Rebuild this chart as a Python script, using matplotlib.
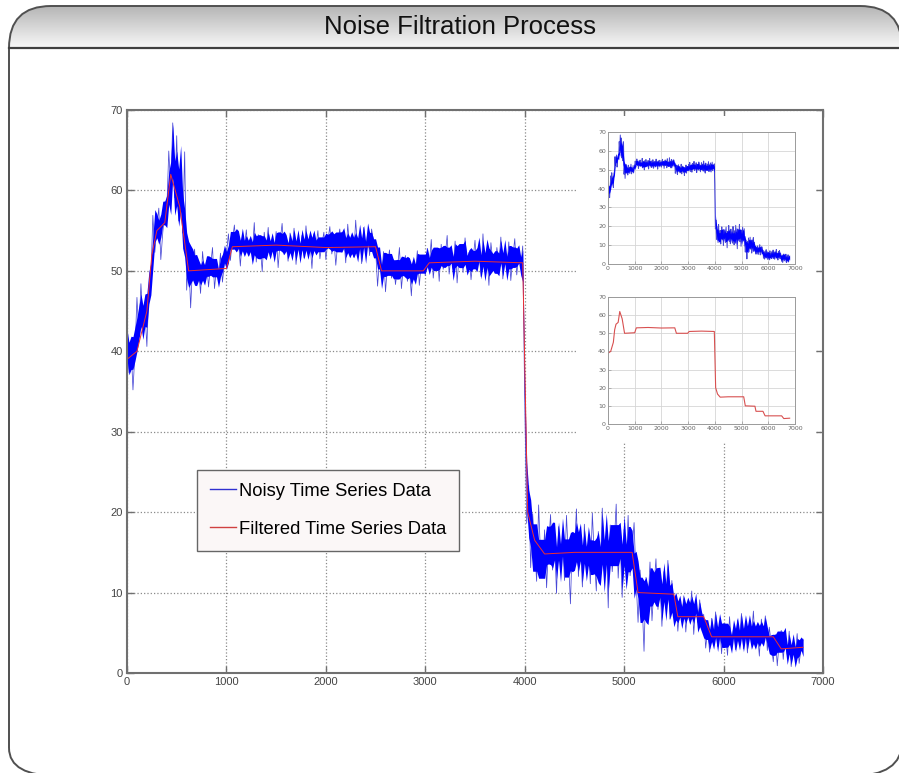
import numpy as np
import pandas as pd
import matplotlib
matplotlib.use("Agg")
import matplotlib.pyplot as plt
from matplotlib.path import Path
from matplotlib.patches import PathPatch, Rectangle
from matplotlib.lines import Line2D
from matplotlib.transforms import Affine2D

# === 1. Data ===
title = "Noise Filtration Process"
legend_labels = ["Noisy Time Series Data", "Filtered Time Series Data"]

# noisy samples, one value every 20 time steps (0 .. 6800)
noisy_step = 20
noisy_values = [
    42.1, 37.3, 40.9, 35.2, 39.8, 46.7, 42.1, 48.4, 43.6, 45.1,   # 0
    40.6, 47.9, 49.0, 56.9, 52.3, 55.6, 57.8, 51.4, 54.8, 57.2,   # 200
    57.4, 64.9, 60.3, 68.4, 59.1, 66.8, 56.2, 61.5, 54.7, 64.8,   # 400
    47.6, 51.9, 45.4, 50.8, 52.7, 48.3, 50.1, 47.2, 52.4, 49.5,   # 600
    51.3, 48.0, 50.6, 52.9, 47.8, 50.4, 49.1, 52.2, 48.6, 51.0,   # 800
    52.1, 54.6, 51.3, 53.8, 55.7, 52.4, 53.9, 50.6, 54.2, 52.8,   # 1000
    55.1, 51.9, 53.4, 52.2, 56.0, 51.1, 54.5, 53.0, 49.9, 54.8,   # 1200
    52.6, 55.4, 51.8, 53.6, 52.3, 54.9, 50.4, 53.7, 55.9, 52.0,   # 1400
    53.5, 51.2, 54.7, 52.5, 55.3, 50.8, 53.9, 52.2, 54.4, 51.6,   # 1600
    55.6, 52.7, 53.8, 50.3, 54.6, 52.9, 55.0, 51.5, 53.3, 54.8,   # 1800
    51.4, 53.7, 55.5, 52.1, 54.0, 50.7, 53.6, 55.2, 52.4, 54.1,   # 2000
    51.0, 55.8, 52.9, 53.5, 51.7, 56.3, 52.6, 54.3, 50.9, 55.4,   # 2200
    52.3, 54.6, 51.9, 55.2, 53.6, 52.8, 48.1, 51.6, 49.3, 52.4,   # 2400
    47.4, 50.8, 52.6, 49.1, 51.4, 48.3, 50.2, 52.9, 47.8, 50.6,   # 2600
    51.9, 48.7, 50.4, 46.9, 51.2, 49.6, 52.5, 48.2, 50.9, 51.7,   # 2800
    49.4, 52.8, 50.6, 53.9, 49.1, 51.5, 52.4, 48.7, 53.3, 50.2,   # 3000
    51.8, 54.4, 49.6, 52.1, 50.3, 53.7, 48.5, 51.9, 52.6, 49.8,   # 3200
    54.1, 50.7, 52.3, 48.9, 51.4, 53.8, 50.1, 52.7, 49.3, 54.6,   # 3400
    50.5, 52.2, 48.2, 53.5, 51.1, 49.7, 52.9, 50.8, 54.2, 49.0,   # 3600
    52.4, 50.3, 53.6, 48.8, 51.7, 54.0, 49.5, 52.1, 50.6, 53.1,   # 3800
    34.0, 18.6, 23.3, 13.1, 19.8, 15.6, 11.4, 20.9, 14.2, 12.3,   # 4000
    17.8, 10.6, 15.9, 19.7, 12.8, 16.4, 9.9, 18.2, 13.7, 16.9,    # 4200
    11.5, 19.6, 14.3, 8.6, 17.2, 15.1, 20.4, 12.0, 16.3, 10.7,    # 4400
    18.5, 13.6, 15.8, 11.1, 19.9, 14.4, 10.2, 17.6, 12.9, 20.5,   # 4600
    13.3, 16.7, 8.1, 18.4, 12.6, 15.9, 21.0, 11.8, 16.5, 9.4,     # 4800
    17.9, 13.2, 19.6, 12.1, 15.4, 18.7, 11.6, 6.3, 12.8, 9.1,     # 5000
    2.7, 11.9, 8.4, 13.8, 6.5, 10.7, 14.2, 7.9, 11.3, 5.8,        # 5200
    12.6, 8.8, 14.0, 6.7, 11.5, 7.6, 9.4, 5.2, 8.3, 6.9,          # 5400
    9.6, 5.1, 8.2, 7.4, 10.2, 4.8, 8.7, 6.3, 9.1, 5.6,            # 5600
    7.3, 3.1, 5.4, 2.6, 6.8, 4.2, 7.6, 3.3, 5.9, 2.4,             # 5800
    6.1, 4.7, 2.2, 7.0, 3.6, 5.5, 2.9, 6.6, 4.1, 7.4,             # 6000
    3.0, 5.8, 2.5, 6.3, 4.4, 7.7, 3.2, 5.1, 2.1, 6.7,             # 6200
    4.6, 7.1, 2.8, 5.7, 3.5, 1.4, 4.8, 0.9, 3.9, 5.3,             # 6400
    1.7, 4.4, 2.3, 5.2, 0.8, 3.6, 2.0, 4.9, 1.2, 3.1,             # 6600
    4.2,                                                          # 6800
]
noisy_time = np.arange(len(noisy_values)) * noisy_step

# filtered (smoothed) curve
filtered_time = [0, 100, 200, 250, 300, 380, 440, 530, 620, 1000, 1060,
                 1500, 2000, 2500, 2560, 2980, 3040, 3500, 3980, 4030,
                 4100, 4200, 4500, 5080, 5140, 5500, 5540, 5800, 5880,
                 6500, 6580, 6800]
filtered_values = [39.0, 40.0, 45.0, 52.0, 55.0, 56.0, 62.0, 58.0, 50.0,
                   50.3, 53.0, 53.2, 52.9, 53.0, 50.0, 50.0, 51.0, 51.2,
                   51.0, 20.0, 16.5, 14.8, 15.0, 15.0, 10.0, 9.8, 7.0,
                   7.0, 4.5, 4.5, 3.0, 3.2]

x_ticks = [0, 1000, 2000, 3000, 4000, 5000, 6000, 7000]
y_ticks = [0, 10, 20, 30, 40, 50, 60, 70]

# dense core of the noisy band (from the samples above)
s = pd.Series(noisy_values)
center = s.rolling(5, center=True, min_periods=1).median()
spread = (s.rolling(2, min_periods=1).max() - s.rolling(2, min_periods=1).min())
spread = spread.rolling(7, center=True, min_periods=1).median()
core_lo = center - 0.44 * spread
core_hi = center + 0.44 * spread

# === 2. Figure and slide frame (drawn in pixels, y from the top) ===
W, H = 899, 773
fig = plt.figure(figsize=(W / 100, H / 100), dpi=100, facecolor="white")
font = ["Liberation Sans", "DejaVu Sans"]
px = Affine2D().scale(1, -1).translate(0, H)   # pixel coords -> display
C3 = Path.CURVE3


def frame_piece(points, codes):
    fig.add_artist(PathPatch(Path(points, codes), transform=px, facecolor="none",
                             edgecolor="#505050", lw=1.4))


# title band gradient as thin horizontal strips
band = Path(
    [(9, 48), (9, 6), (51, 6), (860, 6), (902, 6), (902, 48), (9, 48)],
    [Path.MOVETO, C3, C3, Path.LINETO, C3, C3, Path.CLOSEPOLY],
)
band_clip = PathPatch(band, transform=px, facecolor="none", edgecolor="none")
fig.add_artist(band_clip)
for i in range(42):
    shade = 0.71 + 0.26 * i / 41
    strip = Rectangle((0, 6 + i), W, 1.05, transform=px,
                      facecolor=(shade, shade, shade), edgecolor="none")
    strip.set_clip_path(band_clip)
    fig.add_artist(strip)

# left edge and the two upper corners
frame_piece([(9, 748), (9, 48), (9, 6), (51, 6), (860, 6), (902, 6), (902, 48)],
            [Path.MOVETO, Path.LINETO, C3, C3, Path.LINETO, C3, C3])
# lower corners
frame_piece([(9, 748), (9, 776), (59, 776)], [Path.MOVETO, C3, C3])
frame_piece([(902, 742), (902, 776), (852, 776)], [Path.MOVETO, C3, C3])
fig.add_artist(Line2D([9, W], [48, 48], transform=px, color="#404040", lw=1.6))
fig.text(460 / W, 1 - 27 / H, title, ha="center", va="center", fontsize=18.5,
         family=font, color="#111111")


# === 3. Main plot ===
def draw_noisy(a, lw):
    a.plot(noisy_time, noisy_values, color="#4848d6", lw=lw, zorder=2)
    a.fill_between(noisy_time, core_lo, core_hi, color="#0000ff", lw=0, zorder=2.05)


ax = fig.add_axes([127 / W, (H - 673) / H, 696 / W, 563 / H], zorder=1)
draw_noisy(ax, 0.55)
ax.plot(filtered_time, filtered_values, color="#f03030", lw=0.7, zorder=2.1)
ax.set_xlim(0, 7000)
ax.set_ylim(0, 70)
ax.set_xticks(x_ticks)
ax.set_yticks(y_ticks)
ax.set_axisbelow(True)
ax.grid(True, linestyle=":", color="#8a8a8a", lw=0.9)
ax.tick_params(direction="in", length=5, width=1.0, color="#707070",
               top=True, right=True, labelsize=8, labelcolor="#444444", pad=3)
for lab in ax.get_xticklabels() + ax.get_yticklabels():
    lab.set_family(font)
for sp in ax.spines.values():
    sp.set_color("#707070")
    sp.set_linewidth(1.5)

# white area where the two small pictures are pasted
ax.add_patch(Rectangle(((578 - 127) / 696, (673 - 442) / 563), (815 - 578) / 696,
                       (442 - 116) / 563, transform=ax.transAxes,
                       facecolor="white", edgecolor="none", zorder=2.2))

handles = [Line2D([], [], color="#3030d0", lw=1.0),
           Line2D([], [], color="#d04040", lw=1.0)]
leg = ax.legend(handles, legend_labels, loc="upper left",
                bbox_to_anchor=((197 - 127) / 696, (673 - 470) / 563),
                borderaxespad=0, fancybox=False, framealpha=1,
                handlelength=1.45, handletextpad=0.12, labelspacing=1.15,
                borderpad=0.7, prop={"family": font, "size": 13.2})
leg.get_frame().set_edgecolor("#666666")
leg.get_frame().set_facecolor("#fbf7f7")
leg.get_frame().set_linewidth(1.0)
leg.set_zorder(3)


# === 4. Two small pictures ===
def small_axes(rect):
    a = fig.add_axes(rect, zorder=2)
    a.set_xlim(0, 7000)
    a.set_ylim(0, 70)
    a.set_xticks(x_ticks)
    a.set_yticks(y_ticks)
    a.grid(True, color="#d6d6d6", lw=0.6)
    a.set_axisbelow(True)
    a.tick_params(direction="in", length=2, width=0.5, color="#999999",
                  labelsize=4.5, labelcolor="#666666", pad=1.5)
    for sp in a.spines.values():
        sp.set_color("#9a9a9a")
        sp.set_linewidth(0.7)
    return a


ax1 = small_axes([608 / W, (H - 264) / H, 187 / W, 132 / H])
draw_noisy(ax1, 0.7)

ax2 = small_axes([608 / W, (H - 424) / H, 187 / W, 127 / H])
ax2.plot(filtered_time, filtered_values, color="#d85050", lw=0.8)

fig.savefig("out.png", dpi=100, facecolor="white")
plt.close(fig)
